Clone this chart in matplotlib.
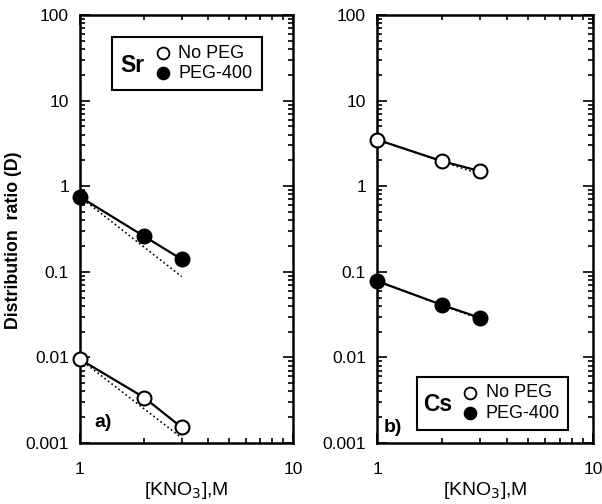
import numpy as np
import matplotlib.pyplot as plt
from matplotlib.patches import Rectangle
from matplotlib.ticker import LogLocator, NullFormatter, FixedLocator, FixedFormatter

plt.rcParams['font.family'] = ['Liberation Sans', 'DejaVu Sans']

# KNO3 concentration (M)
kno3 = [1, 2, 3]

# Sr, panel a)
sr_no_peg = [0.0095, 0.0034, 0.00152]
sr_peg = [0.75, 0.26, 0.14]
sr_no_peg_fit = [0.0095, 0.00115]   # dotted reference, x = 1 and 3
sr_peg_fit = [0.75, 0.088]

# Cs, panel b)
cs_no_peg = [3.5, 1.96, 1.5]
cs_peg = [0.078, 0.041, 0.029]
cs_no_peg_fit = [3.5, 1.38]
cs_peg_fit = [0.078, 0.028]
fit_x = [1, 3]

ytick_vals = [0.001, 0.01, 0.1, 1, 10, 100]
ytick_labels = ['0.001', '0.01', '0.1', '1', '10', '100']

fig = plt.figure(figsize=(6.02, 5.04), dpi=100)
ax1 = fig.add_axes([80 / 602, 61 / 504, 213 / 602, 428 / 504])
ax2 = fig.add_axes([377 / 602, 61 / 504, 216 / 602, 428 / 504])


def style_axis(ax):
    ax.set_xscale('log')
    ax.set_yscale('log')
    ax.set_xlim(1, 10)
    ax.set_ylim(0.001, 100)
    ax.yaxis.set_major_locator(FixedLocator(ytick_vals))
    ax.yaxis.set_major_formatter(FixedFormatter(ytick_labels))
    ax.yaxis.set_minor_locator(LogLocator(base=10, subs=np.arange(2, 10), numticks=20))
    ax.yaxis.set_minor_formatter(NullFormatter())
    ax.xaxis.set_major_locator(FixedLocator([1, 10]))
    ax.xaxis.set_major_formatter(FixedFormatter(['1', '10']))
    ax.xaxis.set_minor_locator(LogLocator(base=10, subs=np.arange(2, 10), numticks=20))
    ax.xaxis.set_minor_formatter(NullFormatter())
    ax.tick_params(which='both', direction='in', top=True, right=True, width=1.2,
                   labelsize=12.5, colors='black')
    ax.tick_params(which='major', length=7)
    ax.tick_params(axis='y', which='major', pad=8)
    ax.tick_params(axis='x', which='major', pad=14)
    ax.tick_params(which='minor', length=3.5)
    for s in ax.spines.values():
        s.set_linewidth(1.8)
    ax.set_xlabel('[KNO$_3$],M', fontsize=14, labelpad=2)


def draw_series(ax, y, fit, filled):
    ax.plot(fit_x, fit, ls=':', color='black', lw=1.2, zorder=2)
    ax.plot(kno3, y, '-o', color='black', lw=1.6, ms=10,
            mfc='black' if filled else 'white', mec='black', mew=1.5,
            zorder=3, clip_on=False)


def draw_legend(ax, x0, y0, w, h, metal, tx, ty, mx, rows):
    ax.add_patch(Rectangle((x0, y0), w, h, transform=ax.transAxes, fill=True,
                           facecolor='white', edgecolor='black', lw=1.5, zorder=5))
    ax.text(tx, ty, metal, transform=ax.transAxes, fontsize=16.5, fontweight='bold',
            ha='center', va='center', zorder=6)
    for (ry, label, filled) in rows:
        ax.plot([mx], [ry], 'o', transform=ax.transAxes, ms=8.5,
                mfc='black' if filled else 'white', mec='black', mew=1.3,
                zorder=6, clip_on=False)
        ax.text(mx + 0.072, ry, label, transform=ax.transAxes, fontsize=13,
                ha='left', va='center', zorder=6)


style_axis(ax1)
draw_series(ax1, sr_peg, sr_peg_fit, True)
draw_series(ax1, sr_no_peg, sr_no_peg_fit, False)
draw_legend(ax1, 0.150, 0.825, 0.704, 0.124, 'Sr', 0.244, 0.883, 0.39,
            [(0.911, 'No PEG', False), (0.864, 'PEG-400', True)])
ax1.text(0.11, 0.049, 'a)', transform=ax1.transAxes, fontsize=14,
         fontweight='bold', ha='center', va='center')
ax1.set_ylabel('Distribution  ratio (D)', fontsize=12.8, fontweight='bold')
ax1.yaxis.set_label_coords(-0.27, 0.474)

style_axis(ax2)
draw_series(ax2, cs_no_peg, cs_no_peg_fit, False)
draw_series(ax2, cs_peg, cs_peg_fit, True)
draw_legend(ax2, 0.185, 0.030, 0.699, 0.124, 'Cs', 0.282, 0.089, 0.431,
            [(0.117, 'No PEG', False), (0.070, 'PEG-400', True)])
ax2.text(0.074, 0.037, 'b)', transform=ax2.transAxes, fontsize=14,
         fontweight='bold', ha='center', va='center', zorder=7)

fig.savefig('out.png', dpi=100)
